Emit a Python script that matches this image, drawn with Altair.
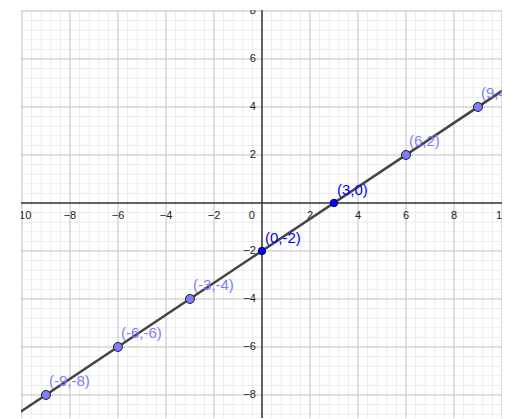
import altair as alt
import numpy as np
import pandas as pd

# ---- data ----
pt_x = [-9, -6, -3, 0, 3, 6, 9]
pt_y = [-8, -6, -4, -2, 0, 2, 4]
pt_label = ["(-9,-8)", "(-6,-6)", "(-3,-4)", "(0,-2)", "(3,0)", "(6,2)", "(9,4)"]
pt_kind = ["free", "free", "free", "intercept", "intercept", "free", "free"]

line_x = [-10.04, 10.0]
line_y = [-8.69, 4.67]

x_ticks = [-10, -8, -6, -4, -2, 2, 4, 6, 8, 10]
y_ticks = [-8, -6, -4, -2, 2, 4, 6, 8]
tick_text_x = ["\u221210", "\u22128", "\u22126", "\u22124", "\u22122", "2", "4", "6", "8", "10"]
tick_text_y = ["\u22128", "\u22126", "\u22124", "\u22122", "2", "4", "6", "8"]

major_x = [-10, -8, -6, -4, -2, 0, 2, 4, 6, 8, 10]
major_y = [-8, -6, -4, -2, 0, 2, 4, 6, 8]
minor_x = [round(v, 2) for v in np.arange(-10, 10.001, 0.4)]
minor_y = [round(v, 2) for v in np.arange(-8.8, 8.041, 0.4)]

X_DOM = [-10.04, 10.0]
Y_DOM = [-8.96, 8.04]

xs = alt.Scale(domain=X_DOM, nice=False, zero=False)
ys = alt.Scale(domain=Y_DOM, nice=False, zero=False)

def X(field):
    return alt.X(field, type="quantitative", scale=xs, axis=None)

def Y(field):
    return alt.Y(field, type="quantitative", scale=ys, axis=None)

minor_v = alt.Chart(pd.DataFrame({"x": minor_x})).mark_rule(color="#ececec", strokeWidth=1).encode(x=X("x"))
minor_h = alt.Chart(pd.DataFrame({"y": minor_y})).mark_rule(color="#ececec", strokeWidth=1).encode(y=Y("y"))
major_v = alt.Chart(pd.DataFrame({"x": major_x})).mark_rule(color="#c8c8c8", strokeWidth=1).encode(x=X("x"))
major_h = alt.Chart(pd.DataFrame({"y": major_y})).mark_rule(color="#c8c8c8", strokeWidth=1).encode(y=Y("y"))

axis_v = alt.Chart(pd.DataFrame({"x": [0]})).mark_rule(color="#3a3a3a", strokeWidth=1.5).encode(x=X("x"))
axis_h = alt.Chart(pd.DataFrame({"y": [0]})).mark_rule(color="#3a3a3a", strokeWidth=1.5).encode(y=Y("y"))

xlab_df = pd.DataFrame({"x": x_ticks, "y": [0] * len(x_ticks), "t": tick_text_x})
ylab_df = pd.DataFrame({"x": [0] * len(y_ticks), "y": y_ticks, "t": tick_text_y})
orig_df = pd.DataFrame({"x": [0], "y": [0], "t": ["0"]})

font = "Liberation Sans"
xlab = alt.Chart(xlab_df).mark_text(font=font, fontSize=11, color="#222222", baseline="top",
                                    align="center", dy=7, clip=True).encode(x=X("x"), y=Y("y"), text="t:N")
ylab = alt.Chart(ylab_df).mark_text(font=font, fontSize=11, color="#222222", baseline="middle",
                                    align="right", dx=-6, clip=True).encode(x=X("x"), y=Y("y"), text="t:N")
olab = alt.Chart(orig_df).mark_text(font=font, fontSize=11, color="#222222", baseline="top",
                                    align="right", dx=-7, dy=7).encode(x=X("x"), y=Y("y"), text="t:N")

line = alt.Chart(pd.DataFrame({"x": line_x, "y": line_y})).mark_line(
    color="#444444", strokeWidth=2.5, clip=True).encode(x=X("x"), y=Y("y"))

pts_df = pd.DataFrame({"x": pt_x, "y": pt_y, "label": pt_label, "kind": pt_kind})

pts_free = alt.Chart(pts_df).transform_filter(alt.datum.kind == "free").mark_point(
    filled=True, shape="circle", size=80, color="#7d7dff", stroke="#1a1a1a", strokeWidth=1, opacity=1
).encode(x=X("x"), y=Y("y"))
pts_int = alt.Chart(pts_df).transform_filter(alt.datum.kind == "intercept").mark_point(
    filled=True, shape="circle", size=55, color="#0000ff", stroke="#000066", strokeWidth=1, opacity=1
).encode(x=X("x"), y=Y("y"))

lab_free = alt.Chart(pts_df).transform_filter(alt.datum.kind == "free").mark_text(
    font=font, fontSize=15, color="#7d7dff", align="left", baseline="alphabetic", dx=3, dy=-9, clip=True
).encode(x=X("x"), y=Y("y"), text="label:N")
lab_int = alt.Chart(pts_df).transform_filter(alt.datum.kind == "intercept").mark_text(
    font=font, fontSize=15, color="#0000ff", align="left", baseline="alphabetic", dx=3, dy=-8, clip=True
).encode(x=X("x"), y=Y("y"), text="label:N")

chart = alt.layer(
    minor_v, minor_h, major_v, major_h, axis_v, axis_h,
    xlab, ylab, olab, line, pts_free, pts_int, lab_free, lab_int
).properties(
    width=481, height=408,
    padding={"left": 13, "top": 2, "right": 0, "bottom": 0},
    autosize=alt.AutoSizeParams(type="none"),
).configure_view(stroke=None)

chart.save("out.html", embed_options={"renderer": "svg", "actions": False})
